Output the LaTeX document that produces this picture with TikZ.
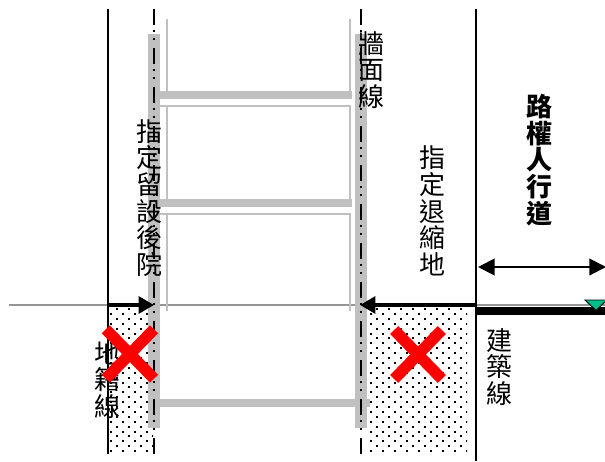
\documentclass[tikz,border=0pt]{standalone}
\usepackage{fontspec}
\usetikzlibrary{arrows.meta}
\newfontfamily\cjk{Noto Sans CJK TC}
\definecolor{wallgray}{RGB}{192,192,192}
\definecolor{levelgray}{RGB}{150,150,150}
\definecolor{marker}{RGB}{0,190,140}
\tikzset{
  x=0.75pt,y=-0.75pt,
  vtext/.style={font=\cjk\fontsize{19.5pt}{20pt}\selectfont,align=center,inner sep=0pt,text width=20pt},
  boldtext/.style={vtext,font=\cjk\bfseries\fontsize{19.5pt}{20pt}\selectfont},
  thickwall/.style={wallgray,line width=9pt},
  slab/.style={wallgray,line width=6pt},
  thinwall/.style={wallgray,line width=1.6pt},
  blackline/.style={black,line width=1.5pt},
  centerline/.style={black,line width=1.5pt,dash pattern=on 12pt off 3.75pt on 1.5pt off 4.5pt on 1.5pt off 6pt},
  redx/.style={red,line width=8.5pt},
  dimarrow/.style={black,line width=3pt,-{Triangle[length=11.5pt,width=12.5pt]}},
  spanarrow/.style={black,line width=1.5pt,{Triangle[length=12.5pt,width=12.5pt]}-{Triangle[length=12.5pt,width=12.5pt]}},
}
\newcommand{\dotfield}[4]{%
  \begin{scope}
    \clip (#1,#2) rectangle (#3,#4);
    \foreach \r in {0,...,30}{
      \pgfmathsetmacro{\yy}{#2+1+4.9*\r}
      \pgfmathsetmacro{\xo}{#1+1+mod(\r+1,2)*6}
      \foreach \c in {0,...,9}{
        \fill[black] ({\xo+12*\c-1},{\yy-1}) rectangle ++(2,2);
      }
    }
  \end{scope}%
}
\begin{document}
\begin{tikzpicture}
\useasboundingbox (0,0) rectangle (605,461);
\fill[white] (0,0) rectangle (605,461);
% dotted ground
\dotfield{110}{308}{153}{454}
\dotfield{370}{308}{467}{454}
% level line
\draw[levelgray,line width=1.5pt] (9,305) -- (605,305);
% thin walls
\draw[thinwall] (167,19) -- (167,92);
\draw[thinwall] (350,19) -- (350,92);
\draw[thinwall] (160,106) -- (350,106) -- (350,200);
\draw[thinwall] (167,106) -- (167,200);
\draw[thinwall] (160,214) -- (350,214) -- (350,311);
\draw[thinwall] (167,214) -- (167,311);
% slabs and columns
\draw[slab] (154,95) -- (352,95);
\draw[slab] (154,203) -- (352,203);
\draw[slab] (154,403) -- (370,403);
\draw[thickwall] (154,34) -- (154,428);
\draw[thickwall] (360.5,34) -- (360.5,428);
% vertical lines
\draw[blackline] (108,9) -- (108,454);
\draw[blackline] (476,9) -- (476,461);
\draw[centerline] (154,9) -- (154,454);
\draw[centerline] (360.5,9) -- (360.5,454);
% setback arrows
\coordinate (lstart) at (107,305);
\coordinate (lend) at (154,305);
\coordinate (rstart) at (476,305);
\coordinate (rend) at (360,305);
\draw[dimarrow] (lstart) -- (lend);
\draw[dimarrow] (rstart) -- (rend);
% road
\fill[black] (476,307) rectangle (605,315);
\coordinate (spanl) at (478,267);
\coordinate (spanr) at (606,267);
\draw[spanarrow] (spanl) -- (spanr);
\fill[marker,draw=black,line width=.7pt] (585,300) -- (607,300) -- (596,310.5) -- cycle;
% labels
\node[vtext] (wall) at (371,70) {牆\\面\\線};
\node[vtext] (retain) at (149,198) {指\\定\\留\\設\\後\\院};
\node[vtext] (setback) at (432,211) {指\\定\\退\\縮\\地};
\node[boldtext] (walkway) at (539,160) {路\\權\\人\\行\\道};
\node[vtext] (cadastre) at (107,380) {地\\籍\\線};
\node[vtext] (build) at (499,367) {建\\築\\線};
% red crosses
\draw[redx] (105.8,329.3) -- (154,378.7);
\draw[redx] (154,329.3) -- (105.8,378.7);
\draw[redx] (394.2,330) -- (441.8,379);
\draw[redx] (441.8,330) -- (394.2,379);
\end{tikzpicture}
\end{document}
